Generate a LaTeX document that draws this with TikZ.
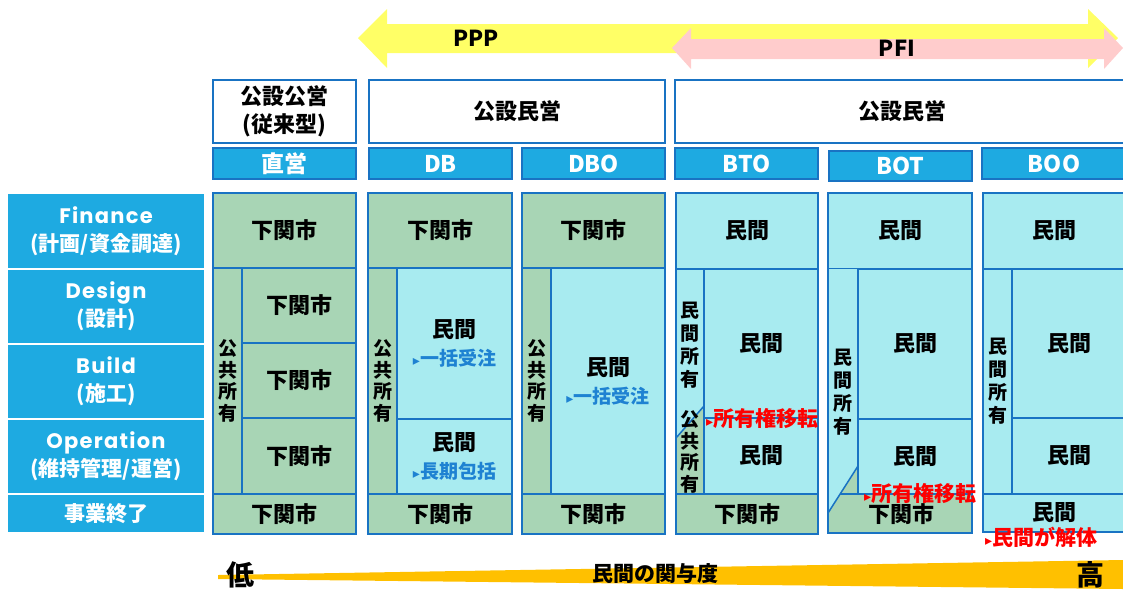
\documentclass[tikz,border=0pt]{standalone}
\usepackage{fontspec}
\setmainfont{Noto Sans CJK JP}
\newfontfamily\symf{DejaVu Sans}
\newfontfamily\popf{Poppins}[LetterSpace=6]
\usetikzlibrary{fit}
\definecolor{lblue}{RGB}{30,170,225}
\definecolor{bord}{RGB}{25,115,195}
\definecolor{grn}{RGB}{168,213,181}
\definecolor{cyn}{RGB}{168,235,240}
\definecolor{yel}{RGB}{255,255,102}
\definecolor{pnk}{RGB}{255,204,204}
\definecolor{org}{RGB}{255,192,0}
\definecolor{btxt}{RGB}{30,130,210}
\definecolor{rtxt}{RGB}{255,0,0}
\newcommand\tri{{\symf\fontsize{14}{14}\selectfont ▸}}
\newcommand\bnote[1]{{\fontsize{19}{20}\selectfont\color{btxt}\tri#1}}
\tikzset{
  ln/.style={draw=bord, line width=1.5pt},
  cell/.style={draw=bord, line width=1.5pt, inner sep=0pt},
  ctext/.style={inner sep=0pt, align=center, font=\fontsize{22}{24}\selectfont\bfseries},
  vtext/.style={inner sep=0pt, align=center, font=\fontsize{19}{21.5}\selectfont\bfseries},
  lab/.style={fill=lblue, inner sep=0pt},
  labtext/.style={inner sep=0pt, align=center, text=white, font=\fontsize{21}{28}\selectfont\bfseries},
  hdr/.style={draw=bord, line width=1.5pt, fill=white, inner sep=0pt},
  tag/.style={draw=bord, line width=1.5pt, fill=lblue, inner sep=0pt},
  tagtext/.style={inner sep=0pt, text=white, font=\fontsize{23}{24}\selectfont\bfseries},
  redlab/.style={anchor=west, inner sep=0pt, text=rtxt, font=\fontsize{21}{22}\selectfont\bfseries},
}
\begin{document}
\begin{tikzpicture}[x=1pt,y=-1pt]
\useasboundingbox (0,0) rectangle (1123,590);
% top arrows
\fill[yel] (358,38) -- (387,9) -- (387,24) -- (1088,24) -- (1088,9) -- (1118,38)
  -- (1088,68) -- (1088,53) -- (387,53) -- (387,68) -- cycle;
\fill[pnk] (672,48) -- (691,28) -- (691,39) -- (1104,39) -- (1104,28) -- (1123,48)
  -- (1104,69) -- (1104,59) -- (691,59) -- (691,69) -- cycle;
\node[font=\fontsize{22}{24}\selectfont\bfseries] (ppp) at (476,38) {PPP};
\node[font=\fontsize{22}{24}\selectfont\bfseries] (pfi) at (897,48) {PFI};
% headers
\node[hdr, fit={(213,80)(356,143)}] (h1) {};
\node[ctext, font=\fontsize{22}{28}\selectfont\bfseries] at (h1) {公設公営\\(従来型)};
\node[hdr, fit={(369,80)(665,143)}] (h2) {};
\node[ctext] at (h2) {公設民営};
\node[hdr, fit={(675,80)(1130,143)}] (h3) {};
\node[ctext] at (h3) {公設民営};
\node[tag, fit={(213,148)(356,179)}] (t1) {};
\node[tag, fit={(369,148)(512,179)}] (t2) {};
\node[tag, fit={(522,148)(665,179)}] (t3) {};
\node[tag, fit={(675,148)(818,179)}] (t4) {};
\node[tag, fit={(829,151)(972,181)}] (t5) {};
\node[tag, fit={(982,148)(1130,179)}] (t6) {};
\node[tagtext] at (t1) {直営};
\node[tagtext] at (t2) {DB};
\node[tagtext] at (t3) {DBO};
\node[tagtext] at (t4) {BTO};
\node[tagtext] at (t5) {BOT};
\node[tagtext] at ([xshift=-2pt]t6) {BOO};
% left labels
\node[lab, fit={(8,194)(204,268)}] (l1) {};
\node[lab, fit={(8,270)(204,343)}] (l2) {};
\node[lab, fit={(8,345)(204,418)}] (l3) {};
\node[lab, fit={(8,420)(204,493)}] (l4) {};
\node[lab, fit={(8,495)(204,532)}] (l5) {};
\node[labtext] at (l1) {{\popf Finance}\\(計画/資金調達)};
\node[labtext] at (l2) {{\popf Design}\\(設計)};
\node[labtext] at (l3) {{\popf Build}\\(施工)};
\node[labtext] at (l4) {{\popf Operation}\\(維持管理/運営)};
\node[labtext] at (l5) {事業終了};
% column 1
\node[cell, fill=grn, fit={(213,193)(356,268)}] (a-f) {};
\node[cell, fill=grn, fit={(213,268)(242,494)}] (a-own) {};
\node[cell, fill=grn, fit={(242,268)(356,343)}] (a-d) {};
\node[cell, fill=grn, fit={(242,343)(356,418)}] (a-b) {};
\node[cell, fill=grn, fit={(242,418)(356,494)}] (a-o) {};
\node[cell, fill=grn, fit={(213,494)(356,534)}] (a-e) {};
\node[ctext] at (a-f) {下関市};
\node[vtext] at (a-own) {公\\共\\所\\有};
\node[ctext] at (a-d) {下関市};
\node[ctext] at (a-b) {下関市};
\node[ctext] at (a-o) {下関市};
\node[ctext] at (a-e) {下関市};
% DB
\node[cell, fill=grn, fit={(368,193)(512,268)}] (b-f) {};
\node[cell, fill=grn, fit={(368,268)(397,494)}] (b-own) {};
\node[cell, fill=cyn, fit={(397,268)(512,419)}] (b-db) {};
\node[cell, fill=cyn, fit={(397,419)(512,494)}] (b-o) {};
\node[cell, fill=grn, fit={(368,494)(512,534)}] (b-e) {};
\node[ctext] at (b-f) {下関市};
\node[vtext] at (b-own) {公\\共\\所\\有};
\node[ctext, font=\fontsize{22}{28}\selectfont\bfseries] at (b-db) {民間\\\bnote{一括受注}};
\node[ctext, font=\fontsize{22}{28}\selectfont\bfseries] at (b-o) {民間\\\bnote{長期包括}};
\node[ctext] at (b-e) {下関市};
% DBO
\node[cell, fill=grn, fit={(522,193)(665,268)}] (c-f) {};
\node[cell, fill=grn, fit={(522,268)(551,494)}] (c-own) {};
\node[cell, fill=cyn, fit={(551,268)(665,494)}] (c-m) {};
\node[cell, fill=grn, fit={(522,494)(665,534)}] (c-e) {};
\node[ctext] at (c-f) {下関市};
\node[vtext] at (c-own) {公\\共\\所\\有};
\node[ctext, font=\fontsize{22}{28}\selectfont\bfseries] at (c-m) {民間\\\bnote{一括受注}};
\node[ctext] at (c-e) {下関市};
% BTO
\node[cell, fill=cyn, fit={(676,193)(818,269)}] (d-f) {};
\node[cell, fill=cyn, fit={(676,269)(704,494)}] (d-own) {};
\fill[grn] (676,438) -- (704,406) -- (704,494) -- (676,494) -- cycle;
\draw[ln] (676,438) -- (704,406);
\draw[ln] (676,269) rectangle (704,494);
\node[cell, fill=cyn, fit={(704,269)(818,418)}] (d-db) {};
\node[cell, fill=cyn, fit={(704,418)(818,494)}] (d-o) {};
\node[cell, fill=grn, fit={(676,494)(818,534)}] (d-e) {};
\node[ctext] at (d-f) {民間};
\node[vtext, font=\fontsize{19}{23}\selectfont\bfseries] (d-o1) at (690,345) {民\\間\\所\\有};
\node[vtext] (d-o2) at (690,452) {公\\共\\所\\有};
\node[ctext] at (d-db) {民間};
\node[ctext] at (d-o) {民間};
\node[ctext] at (d-e) {下関市};
\node[redlab] (d-tr) at (706,418) {\tri 所有権移転};
% BOT
\node[cell, fill=cyn, fit={(828,193)(972,269)}] (e-f) {};
\fill[cyn] (828,269) rectangle (858,533);
\fill[grn] (828,513) -- (858,466) -- (858,494) -- (972,494) -- (972,533) -- (828,533) -- cycle;
\node[cell, fill=cyn, fit={(858,269)(972,419)}] (e-db) {};
\node[cell, fill=cyn, fit={(858,419)(972,494)}] (e-o) {};
\draw[ln] (828,513) -- (858,466);
\draw[ln] (840,494) -- (858,494);
\draw[ln] (828,193) rectangle (972,533);
\node[ctext] at (e-f) {民間};
\node[ctext] at (e-db) {民間};
\node[ctext] at (e-o) {民間};
\node[vtext, font=\fontsize{19}{23}\selectfont\bfseries] (e-own) at (843,392) {民\\間\\所\\有};
\node[ctext] (e-e) at (901,514) {下関市};
\node[redlab] (e-tr) at (864,493) {\tri 所有権移転};
% BOO
\node[cell, fill=cyn, fit={(983,193)(1130,269)}] (f-f) {};
\node[cell, fill=cyn, fit={(983,269)(1012,494)}] (f-own) {};
\node[cell, fill=cyn, fit={(1012,269)(1130,418)}] (f-db) {};
\node[cell, fill=cyn, fit={(1012,418)(1130,494)}] (f-o) {};
\node[cell, fill=cyn, fit={(983,494)(1130,532)}] (f-e) {};
\node[ctext] at ([xshift=-2pt]f-f) {民間};
\node[vtext, font=\fontsize{19}{23}\selectfont\bfseries] at (f-own) {民\\間\\所\\有};
\node[ctext] at ([xshift=-2pt]f-db) {民間};
\node[ctext] at ([xshift=-2pt]f-o) {民間};
\node[ctext] at ([xshift=-2pt]f-e) {民間};
\node[redlab] (f-tr) at (985,537) {\tri 民間が解体};
% bottom scale
\fill[org] (218,575) -- (1123,560) -- (1123,589) -- (218,579) -- cycle;
\node[font=\fontsize{28}{30}\selectfont\bfseries] (low) at (240,575) {低};
\node[font=\fontsize{28}{30}\selectfont\bfseries] (high) at (1090,575) {高};
\node[font=\fontsize{21}{24}\selectfont\bfseries] (deg) at (655,574) {民間の関与度};
\end{tikzpicture}
\end{document}
